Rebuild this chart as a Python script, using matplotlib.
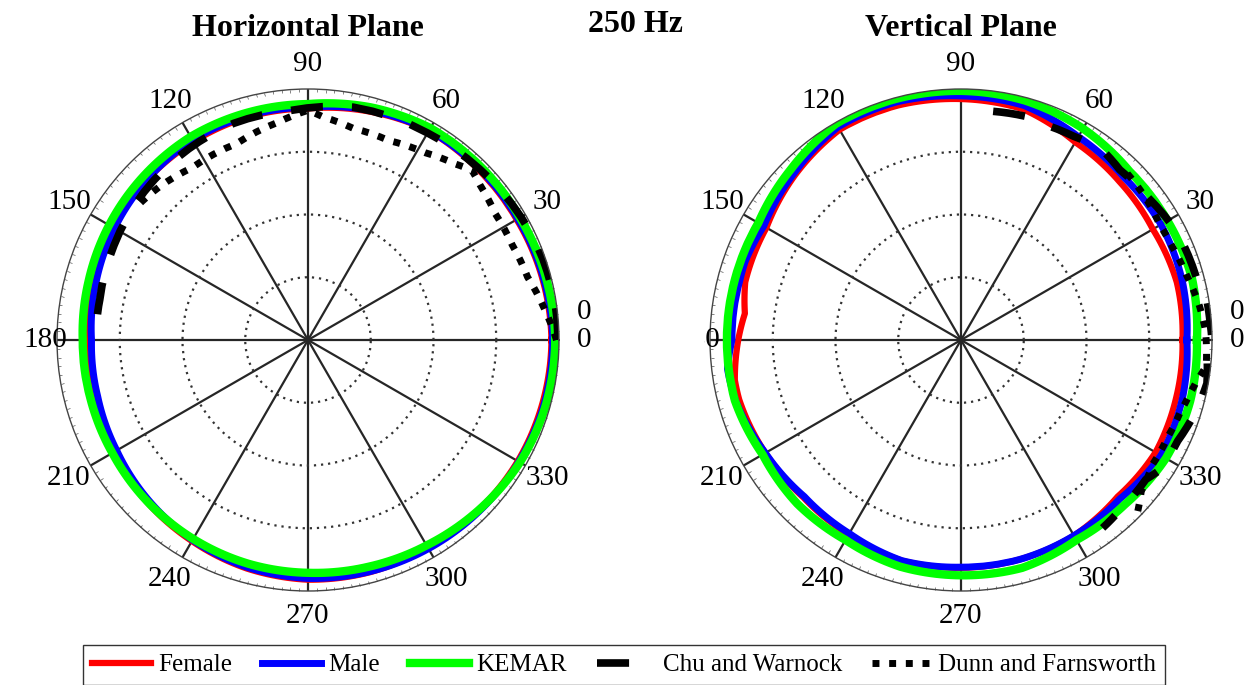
import numpy as np
import matplotlib
matplotlib.use("Agg")
import matplotlib.pyplot as plt
from matplotlib.lines import Line2D
from matplotlib.transforms import Bbox, TransformedBbox

plt.rcParams['font.family'] = ['Liberation Serif', 'DejaVu Serif']

# ---------------- data ----------------
series_names = ['Female', 'Male', 'KEMAR', 'Chu and Warnock', 'Dunn and Farnsworth']

ang_std = [0, 15, 30, 45, 60, 75, 90, 105, 120, 135, 150, 165, 180, 195, 210,
           225, 240, 255, 270, 285, 300, 315, 330, 345, 360]

# Horizontal plane
female_h = [38.8, 38.6, 38.4, 38.4, 38.5, 37.7, 36.9, 36.8, 36.5, 36.2, 36.0, 35.7, 35.5,
            35.5, 35.8, 36.4, 37.0, 37.7, 38.2, 38.3, 38.2, 38.4, 38.6, 38.7, 38.8]
male_h = [39.0, 38.8, 38.6, 38.6, 38.6, 37.9, 37.1, 37.0, 36.8, 36.2, 35.6, 35.0, 34.5,
          34.7, 35.2, 36.0, 36.8, 37.5, 38.0, 38.2, 38.4, 38.6, 38.8, 39.0, 39.0]
kemar_h = [39.4, 39.2, 39.0, 39.0, 39.0, 38.4, 37.6, 37.5, 37.4, 37.0, 36.6, 36.2, 35.9,
           35.9, 36.0, 36.3, 36.6, 36.9, 37.1, 37.4, 37.8, 38.4, 39.0, 39.3, 39.4]
chu_h_ang = [0, 7, 19, 30, 45, 60, 79, 94, 109, 122, 138, 154, 169, 176]
chu_h = [39.8, 39.8, 39.6, 39.2, 38.6, 38.1, 37.8, 36.7, 36.5, 35.9, 35.2, 34.4, 33.8, 33.8]
dunn_h_ang = [0, 8, 16, 25, 34, 42, 46, 50, 58, 68, 78, 86, 90, 98, 110, 124, 134, 142]
dunn_h = [39.6, 37.9, 36.4, 35.9, 36.0, 36.9, 37.6, 36.6, 35.2, 34.3, 34.5, 35.6, 36.6,
          35.0, 33.3, 33.1, 34.0, 34.6]

# Vertical plane
female_v_ang = [0, 15, 30, 45, 60, 75, 90, 105, 120, 135, 150, 165, 173, 180, 190, 195,
                210, 225, 240, 255, 270, 285, 300, 315, 330, 345, 360]
female_v = [35.3, 35.6, 35.3, 35.7, 36.4, 38.1, 38.4, 38.7, 38.7, 37.3, 35.8, 35.6, 34.7,
            35.5, 36.6, 36.6, 36.0, 35.5, 35.8, 36.4, 36.3, 36.2, 36.0, 35.3, 35.8, 35.5, 35.3]
male_v_ang = [0, 15, 30, 45, 60, 75, 90, 105, 120, 135, 150, 160, 165, 180, 187, 195,
              210, 225, 240, 255, 270, 285, 300, 315, 330, 345, 360]
male_v = [36.0, 36.5, 36.8, 36.7, 37.4, 38.7, 38.9, 39.3, 39.2, 37.6, 36.3, 36.6, 36.5,
          36.5, 37.5, 37.2, 36.0, 35.3, 35.6, 36.4, 36.2, 36.2, 36.0, 35.8, 36.8, 36.5, 36.0]
kemar_v = [37.6, 38.1, 38.0, 38.0, 38.9, 39.5, 39.7, 39.8, 39.8, 38.4, 37.3, 37.3, 37.3,
           37.3, 36.5, 36.9, 36.8, 37.4, 37.5, 37.6, 36.8, 37.0, 37.7, 37.8, 37.6]
chu_v_ang = [82, 74, 70, 61, 54, 47, 37, 26, 15, 9, 4, 0, -5, -10, -17, -25, -33, -37, -47, -53]
chu_v = [36.8, 37.1, 36.8, 37.1, 37.8, 37.1, 37.5, 38.5, 38.8, 39.7, 39.8, 40.0, 39.4,
         39.8, 39.1, 38.1, 37.9, 36.9, 37.1, 37.5]
dunn_v_ang = [45, 37, 30, 24, 16, 8, 2, -6, -10, -13, -18, -25, -33, -40, -45]
dunn_v = [37.5, 37.1, 36.6, 36.8, 37.4, 38.4, 39.0, 39.3, 38.1, 37.5, 36.8, 36.4, 36.4,
          37.5, 39.6]

theta_ticks = [0, 30, 60, 90, 120, 150, 180, 210, 240, 270, 300, 330]
theta_tick_labels = ['0', '30', '60', '90', '120', '150', '180', '210', '240', '270', '300', '330']
extra_label_ang = 5.8
extra_label = '0'
r_max = 40
r_rings = [10, 20, 30]

titles = ['Horizontal Plane', 'Vertical Plane']
freq_title = '250 Hz'

# ---------------- styling ----------------
W, H = 1250, 685
fig = plt.figure(figsize=(W / 100, H / 100), dpi=100)

R = 251
centers = [(308, 340), (961, 340)]
axes = []
for cx, cy in centers:
    ax = fig.add_axes([(cx - R) / W, (H - cy - R) / H, 2 * R / W, 2 * R / H],
                      projection='polar')
    axes.append(ax)

colors = {'Female': '#ff0000', 'Male': '#0000ff', 'KEMAR': '#00ff00'}
lws = {'Female': 4.5, 'Male': 5.0, 'KEMAR': 6.0}
chu_style = dict(color='black', lw=5.5, linestyle=(0, (4.2, 3.8)), dash_capstyle='butt')
dunn_style = dict(color='black', lw=5.0, linestyle=(0, (1, 1.4)), dash_capstyle='butt')

datasets = [
    dict(fem=(ang_std, female_h), male=(ang_std, male_h), kem=(ang_std, kemar_h),
         chu=(chu_h_ang, chu_h), dunn=(dunn_h_ang, dunn_h)),
    dict(fem=(female_v_ang, female_v), male=(male_v_ang, male_v), kem=(ang_std, kemar_v),
         chu=(chu_v_ang, chu_v), dunn=(dunn_v_ang, dunn_v)),
]


def smooth(line, n=12):
    line.get_path()._interpolation_steps = n
    return line


for i, (ax, d) in enumerate(zip(axes, datasets)):
    ax.set_theta_zero_location('E')
    ax.set_theta_direction(1)
    ax.set_ylim(0, r_max)
    ax.set_yticks(r_rings)
    ax.set_yticklabels([])
    ax.set_xticks(np.deg2rad(theta_ticks))
    ax.set_xticklabels([])
    ax.set_xticks(np.deg2rad(np.arange(0, 360, 2)), minor=True)
    ax.tick_params(axis='x', which='major', length=0)
    ax.tick_params(axis='x', which='minor', length=2.2, width=0.5, color='#555555',
                   direction='in', top=True, bottom=False)
    ax.tick_params(axis='y', length=0)
    ax.xaxis.grid(True, color='#262626', lw=1.6, linestyle='-')
    ax.yaxis.grid(True, color='#333333', lw=1.6, linestyle=(0, (1, 2.2)))
    ax.spines['polar'].set_color('#444444')
    ax.spines['polar'].set_linewidth(1.0)
    ax.set_axisbelow(True)

    a, r = d['fem']
    smooth(ax.plot(np.deg2rad(a), r, color=colors['Female'], lw=lws['Female'],
                   solid_joinstyle='round')[0])
    a, r = d['male']
    smooth(ax.plot(np.deg2rad(a), r, color=colors['Male'], lw=lws['Male'],
                   solid_joinstyle='round')[0])
    a, r = d['kem']
    smooth(ax.plot(np.deg2rad(a), r, color=colors['KEMAR'], lw=lws['KEMAR'],
                   solid_joinstyle='round')[0])
    a, r = d['chu']
    smooth(ax.plot(np.deg2rad(a), r, **chu_style)[0], 4)
    a, r = d['dunn']
    smooth(ax.plot(np.deg2rad(a), r, **dunn_style)[0], 4)

    for t, lab in zip(theta_ticks, theta_tick_labels):
        rr = 41.8 if t == 180 else 44.0
        txt = ax.text(np.deg2rad(t), rr, lab, ha='center', va='center', fontsize=21,
                      clip_on=False)
        if i == 1 and t == 180:
            txt.set_clip_on(True)
            txt.set_clip_box(TransformedBbox(Bbox([[704 / W, 0], [1, 1]]), fig.transFigure))
    ax.text(np.deg2rad(extra_label_ang), 44.3, extra_label, ha='center', va='center',
            fontsize=21, clip_on=False)

fig.text(308 / W, 1 - 29 / H, titles[0], ha='center', va='center', fontsize=23, fontweight='bold')
fig.text(961 / W, 1 - 29 / H, titles[1], ha='center', va='center', fontsize=23, fontweight='bold')
fig.text(635 / W, 1 - 24 / H, freq_title, ha='center', va='center', fontsize=23, fontweight='bold')

handles = [
    Line2D([], [], color=colors['Female'], lw=lws['Female']),
    Line2D([], [], color=colors['Male'], lw=lws['Male']),
    Line2D([], [], color=colors['KEMAR'], lw=lws['KEMAR']),
    Line2D([], [], **chu_style),
    Line2D([], [], **dunn_style),
]
leg = fig.legend(handles, series_names, loc='upper left', bbox_to_anchor=(83 / W, 1 - 645 / H),
                 ncol=5, frameon=True, fancybox=False, edgecolor='black', borderaxespad=0,
                 fontsize=18, handlelength=2.35, handletextpad=0.3, columnspacing=1.2,
                 borderpad=0.35)
leg.get_frame().set_linewidth(1.0)

fig.savefig('out.png', dpi=100)
